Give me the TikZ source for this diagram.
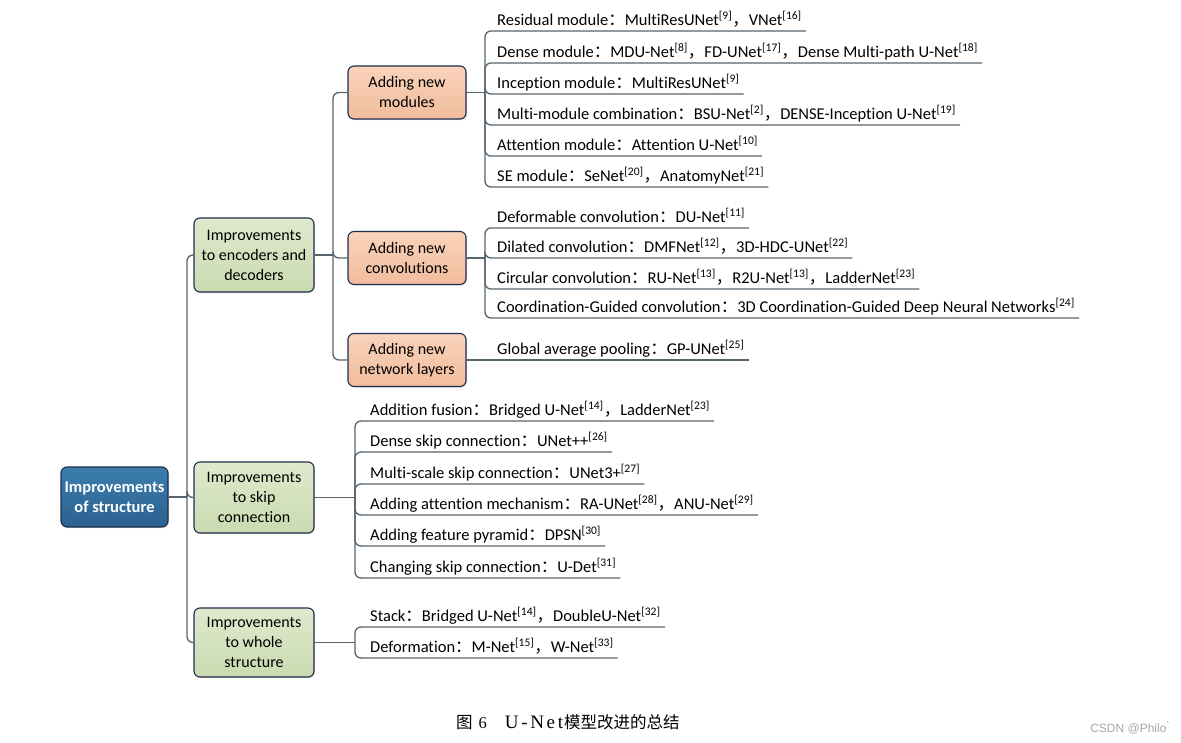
\documentclass[tikz,border=0pt]{standalone}
\usepackage{fontspec}
\setmainfont{Carlito}[Ligatures={NoCommon}]
\newfontfamily\cjk{Noto Sans CJK SC}
\newfontfamily\capserif{Liberation Serif}
\newfontfamily\wmfont{Liberation Sans}
\usetikzlibrary{shadows}
\newcommand\fcol{{\cjk ：}}
\newcommand\fcom{{\cjk ，}}
\newcommand\rf[1]{\textsuperscript{[#1]}}
\definecolor{navy}{HTML}{1F2D50}
\definecolor{conn}{HTML}{56646E}
\definecolor{rootT}{HTML}{3C7DAD}
\definecolor{rootB}{HTML}{2B6190}
\definecolor{greenT}{HTML}{DFE9CD}
\definecolor{greenB}{HTML}{C9DAB0}
\definecolor{orangeT}{HTML}{F9D3BB}
\definecolor{orangeB}{HTML}{F1BC9C}
\tikzset{
  box/.style={draw=navy, line width=1.1pt, rounded corners=6pt, align=center,
    inner sep=0pt, font=\fontsize{16}{20}\selectfont,
    drop shadow={opacity=0.25, shadow xshift=1.2pt, shadow yshift=-1.2pt}},
  rootbox/.style={box, top color=rootT, bottom color=rootB, text=white,
    font=\bfseries\fontsize{16.5}{20}\selectfont, minimum width=107pt, minimum height=60pt},
  greenbox/.style={box, top color=greenT, bottom color=greenB,
    minimum width=120pt},
  orangebox/.style={box, top color=orangeT, bottom color=orangeB,
    minimum width=118pt, minimum height=53pt},
  leaf/.style={anchor=south west, inner xsep=4pt, inner ysep=1.5pt, text depth=3.8pt,
    font=\fontsize{16.5}{19}\selectfont},
  link/.style={draw=conn, line width=1.3pt, rounded corners=6pt},
}
\begin{document}
\begin{tikzpicture}[x=1pt,y=-1pt]
\useasboundingbox[fill=white] (0,0) rectangle (1181,743);

% boxes
\node[rootbox] (root) at (114.5,497) {Improvements\\of structure};
\node[greenbox, minimum height=74pt] (g1) at (254,255) {Improvements\\to encoders and\\decoders};
\node[greenbox, minimum height=71pt] (g2) at (254,497.5) {Improvements\\to skip\\connection};
\node[greenbox, minimum height=69pt] (g3) at (254,642.5) {Improvements\\to whole\\structure};
\node[orangebox] (o1) at (407,92.5) {Adding new\\modules};
\node[orangebox] (o2) at (407,258) {Adding new\\convolutions};
\node[orangebox] (o3) at (407,360) {Adding new\\network layers};

% junctions
\coordinate (jr) at (187,497);
\coordinate (je) at (333,255);
\coordinate (jm) at (485,92.5);
\coordinate (jc) at (485,258);
\coordinate (js) at (355,497.5);
\coordinate (jw) at (355,642.5);

% leaves: modules
\node[leaf] (m1) at (493,31) {Residual module\fcol MultiResUNet\rf{9}\fcom VNet\rf{16}};
\node[leaf] (m2) at (493,63) {Dense module\fcol MDU-Net\rf{8}\fcom FD-UNet\rf{17}\fcom Dense Multi-path U-Net\rf{18}};
\node[leaf] (m3) at (493,94) {Inception module\fcol MultiResUNet\rf{9}};
\node[leaf] (m4) at (493,125) {Multi-module combination\fcol BSU-Net\rf{2}\fcom DENSE-Inception U-Net\rf{19}};
\node[leaf] (m5) at (493,156) {Attention module\fcol Attention U-Net\rf{10}};
\node[leaf] (m6) at (493,187) {SE module\fcol SeNet\rf{20}\fcom AnatomyNet\rf{21}};
% leaves: convolutions
\node[leaf] (c1) at (493,228) {Deformable convolution\fcol DU-Net\rf{11}};
\node[leaf] (c2) at (493,258) {Dilated convolution\fcol DMFNet\rf{12}\fcom 3D-HDC-UNet\rf{22}};
\node[leaf] (c3) at (493,289) {Circular convolution\fcol RU-Net\rf{13}\fcom R2U-Net\rf{13}\fcom LadderNet\rf{23}};
\node[leaf] (c4) at (493,318) {Coordination-Guided convolution\fcol 3D Coordination-Guided Deep Neural Networks\rf{24}};
% leaf: layers
\node[leaf] (l1) at (493,360) {Global average pooling\fcol GP-UNet\rf{25}};
% leaves: skip
\node[leaf] (s1) at (366,421) {Addition fusion\fcol Bridged U-Net\rf{14}\fcom LadderNet\rf{23}};
\node[leaf] (s2) at (366,452) {Dense skip connection\fcol UNet++\rf{26}};
\node[leaf] (s3) at (366,484) {Multi-scale skip connection\fcol UNet3+\rf{27}};
\node[leaf] (s4) at (366,515) {Adding attention mechanism\fcol RA-UNet\rf{28}\fcom ANU-Net\rf{29}};
\node[leaf] (s5) at (366,546) {Adding feature pyramid\fcol DPSN\rf{30}};
\node[leaf] (s6) at (366,578) {Changing skip connection\fcol U-Det\rf{31}};
% leaves: whole
\node[leaf] (w1) at (366,627) {Stack\fcol Bridged U-Net\rf{14}\fcom DoubleU-Net\rf{32}};
\node[leaf] (w2) at (366,658) {Deformation\fcol M-Net\rf{15}\fcom W-Net\rf{33}};

% connectors
\draw[link] (root.east) -- (jr);
\foreach \c in {g1,g2,g3} \draw[link] (jr) |- (\c.west);
\draw[link] (g1.east) -- (je);
\foreach \c in {o1,o2,o3} \draw[link] (je) |- (\c.west);
\draw[link] (o1.east) -- (jm);
\foreach \c in {m1,m2,m3,m4,m5,m6} \draw[link] (jm) |- (\c.south east);
\draw[link] (o2.east) -- (jc);
\foreach \c in {c1,c2,c3,c4} \draw[link] (jc) |- (\c.south east);
\draw[link] (o3.east) -- (l1.south east);
\draw[link] (g2.east) -- (js);
\foreach \c in {s1,s2,s3,s4,s5,s6} \draw[link] (js) |- (\c.south east);
\draw[link] (g3.east) -- (jw);
\foreach \c in {w1,w2} \draw[link] (jw) |- (\c.south east);

% caption
\node[anchor=west, font=\fontsize{16.5}{18}\selectfont, inner sep=0pt] (cap) at (456,722)
  {{\cjk 图}\hspace{6pt}{\capserif 6}\hspace{18pt}{\capserif\fontsize{19}{20}\selectfont\addfontfeature{LetterSpace=14}U-Net}\hspace{1pt}{\cjk 模型改进的总结}};
\node[anchor=east, font=\wmfont\fontsize{12}{14}\selectfont, text=gray!70, inner sep=0pt] (wm) at (1170,728) {CSDN @Philo\`{}};
\end{tikzpicture}
\end{document}
